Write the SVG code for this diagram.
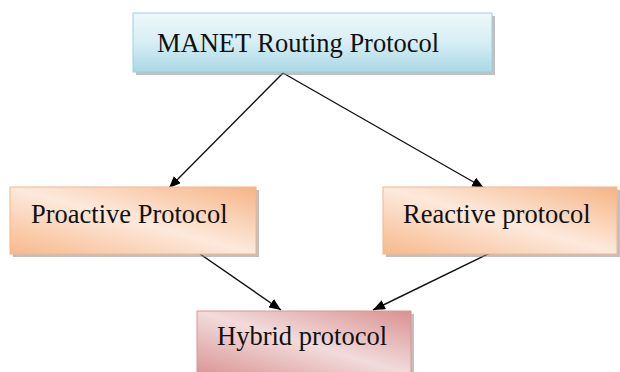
<svg xmlns="http://www.w3.org/2000/svg" width="620" height="372" viewBox="0 0 620 372">
<defs>
<linearGradient id="gBlue" x1="0" y1="0" x2="0" y2="1">
<stop offset="0" stop-color="#eef8fa"/>
<stop offset="0.5" stop-color="#d6eef4"/>
<stop offset="1" stop-color="#a9d8e5"/>
</linearGradient>
<linearGradient id="gOrange" x1="1" y1="0" x2="0" y2="1">
<stop offset="0" stop-color="#f6b485"/>
<stop offset="0.5" stop-color="#fde9dc"/>
<stop offset="1" stop-color="#f7b98b"/>
</linearGradient>
<linearGradient id="gRed" x1="1" y1="0" x2="0" y2="1">
<stop offset="0" stop-color="#d99190"/>
<stop offset="0.5" stop-color="#f2dbdb"/>
<stop offset="1" stop-color="#d99594"/>
</linearGradient>
<marker id="arr" markerWidth="12" markerHeight="10" refX="12" refY="5" orient="auto" markerUnits="userSpaceOnUse">
<path d="M0,0 L12,5 L0,10 Z" fill="#000"/>
</marker>
</defs>
<style>
.shadow{fill:#8c8c8c;opacity:0.55}
.lbl{font-family:"Liberation Serif","Times New Roman",serif;font-size:26.5px;fill:#111}
.edge{stroke:#111;stroke-width:1.4;fill:none;marker-end:url(#arr)}
</style>
<rect width="620" height="372" fill="#fff"/>
<g id="connectors">
<line class="edge" x1="283" y1="73" x2="169" y2="188"/>
<line class="edge" x1="283" y1="73" x2="484" y2="188"/>
<line class="edge" x1="200" y1="254" x2="281" y2="310"/>
<line class="edge" x1="490" y1="253" x2="373" y2="310"/>
</g>
<g id="manet">
<rect class="shadow" x="136" y="16" width="359" height="59"/>
<rect x="133" y="13" width="359" height="59" fill="url(#gBlue)" stroke="#9dd0dd" stroke-width="1"/>
<text class="lbl" x="157" y="52">MANET Routing Protocol</text>
</g>
<g id="proactive">
<rect class="shadow" x="13" y="190" width="246" height="67"/>
<rect x="10" y="187" width="246" height="67" fill="url(#gOrange)" stroke="#f5b689" stroke-width="1"/>
<text class="lbl" x="31" y="223">Proactive Protocol</text>
</g>
<g id="reactive">
<rect class="shadow" x="386" y="190" width="234" height="67"/>
<rect x="383" y="187" width="234" height="67" fill="url(#gOrange)" stroke="#f5b689" stroke-width="1"/>
<text class="lbl" x="403" y="223">Reactive protocol</text>
</g>
<g id="hybrid">
<rect class="shadow" x="200" y="314" width="214" height="62"/>
<rect x="197" y="311" width="214" height="64" fill="url(#gRed)" stroke="#d99594" stroke-width="1"/>
<text class="lbl" x="217" y="345">Hybrid protocol</text>
</g>
</svg>
